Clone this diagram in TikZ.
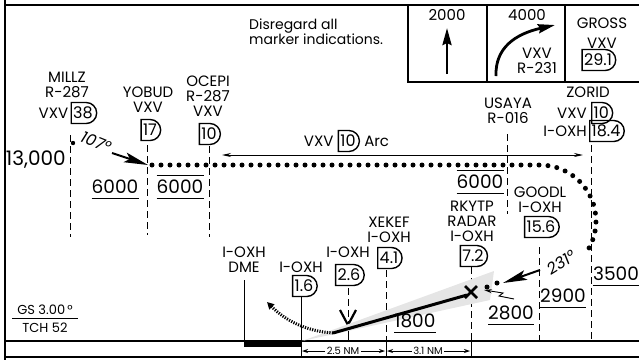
\documentclass[tikz,border=0pt]{standalone}
\usepackage{fontspec}
\setmainfont{Poppins}
\usepackage{tikz}
\usetikzlibrary{arrows.meta,positioning,shapes.misc,calc}

\begin{document}
\begin{tikzpicture}[x=1pt, y=-1pt,
    lbl/.style = {font=\fontsize{15}{15}\selectfont, inner sep=0pt, align=center},
    remark/.style = {font=\fontsize{14}{15}\selectfont, inner sep=0pt, align=left},
    alt/.style = {font=\fontsize{18.5}{18.5}\selectfont, inner xsep=0pt, inner ysep=4.5pt},
    nm/.style = {font=\fontsize{10}{10}\selectfont, inner sep=1.5pt},
    dme/.style = {draw, line width=1.4pt, rounded rectangle, rounded rectangle left arc=none,
                  font=\fontsize{16}{16}\selectfont, inner xsep=2pt, inner ysep=0pt, minimum height=21pt},
    fixline/.style = {line width=1pt, dash pattern=on 7pt off 4pt},
    solidline/.style = {line width=1pt},
    track/.style = {line width=5pt, line cap=round, dash pattern=on 0pt off 9pt},
    hdg/.style = {line width=2pt, -{Stealth[length=24pt, width=10pt, inset=5pt]}},
    nmarrow/.style = {line width=0.8pt, -{Stealth[length=6pt, width=4pt]}}]
    \useasboundingbox (0,0) rectangle (639,360);
    % frame and boxes
    \draw[line width=2pt] (5,0) -- (5,360);
    \draw[line width=2pt] (5,5) -- (639,5);
    \draw[line width=1.5pt] (408,5) -- (408,82) -- (639,82);
    \draw[line width=1.5pt] (487,5) -- (487,82);
    \draw[line width=1.5pt] (565,5) -- (565,82);
    \draw[line width=1.2pt] (5,341) -- (639,341);
    \draw[line width=1.2pt] (5,357) -- (639,357);
    \node[remark, anchor=north west] (note) at (249,19) {Disregard all\\marker indications.};
    % missed approach boxes
    \node[lbl] (climb) at (447,15) {2000};
    \coordinate (climbtail) at (447,74);
    \coordinate (climbhead) at (447,28);
    \draw[line width=2.6pt, -{Stealth[length=17pt, width=9pt, inset=2pt]}] (climbtail) -- (climbhead);
    \node[lbl] (turn) at (527,15) {4000};
    \coordinate (turntail) at (496,76);
    \coordinate (turnhead) at (555,25);
    \draw[line width=2.8pt, -{Stealth[length=17pt, width=9pt, inset=2pt]}] (turntail) .. controls (495,48) and (515,34) .. (turnhead);
    \node[lbl] (turnvxv) at (537,61) {VXV\\R-231};
    \node[lbl] (gross) at (602,23) {GROSS};
    \node[lbl] (grossv) at (602,43) {VXV};
    \node[dme] (grossd) at (598,60) {29.1};
    % fixes
    \node[lbl] (millz) at (67,85) {MILLZ\\R-287};
    \node[dme] (millzd) at (83,113) {38};
    \node[lbl, left=2pt of millzd] (millzv) {VXV};
    \draw[fixline] (70,135) -- (70,237);
    \node[lbl] (yobud) at (148,99.5) {YOBUD\\VXV};
    \node[dme] (yobudd) at (150,130) {17};
    \draw[fixline] (147,145) -- (147,235);
    \node[lbl] (ocepi) at (208,96.5) {OCEPI\\R-287\\VXV};
    \node[dme] (ocepid) at (209,134) {10};
    \draw[fixline] (209,146) -- (209,237);
    \node[lbl] (usaya) at (508,110.5) {USAYA\\R-016};
    \draw[fixline] (507,134) -- (507,214);
    \node[lbl] (zorid) at (588,92) {ZORID};
    \node[dme, anchor=west] (zoridd) at (591,113) {10};
    \node[lbl, left=4pt of zoridd] (zoridv) {VXV};
    \node[dme, anchor=west] (zoridi) at (589,131) {18.4};
    \node[lbl, left=2pt of zoridi] (zoridx) {I-OXH};
    \draw[fixline] (591,145) -- (591,341);
    \node[lbl] (goodl) at (540,200) {GOODL\\I-OXH};
    \node[dme] (goodld) at (541,227) {15.6};
    \draw[fixline] (539,247) -- (539,341);
    \node[lbl] (rkytp) at (472,221) {RKYTP\\RADAR\\I-OXH};
    \node[dme] (rkytpd) at (473,256) {7.2};
    \draw[fixline] (471,267) -- (471,341);
    \draw[solidline] (471,341) -- (471,357);
    \node[lbl] (xekef) at (389,229.5) {XEKEF\\I-OXH};
    \node[dme] (xekefd) at (389,258) {4.1};
    \draw[fixline] (386,270) -- (386,341);
    \draw[solidline] (386,341) -- (386,357);
    \node[lbl] (oxhb) at (348,252) {I-OXH};
    \node[dme] (oxhbd) at (349,275) {2.6};
    \draw[fixline] (348,288) -- (348,322);
    \draw[solidline] (348,322) -- (348,341);
    \draw[line width=2.2pt] (340,310) -- (348,325) -- (356,310);
    \node[lbl] (oxha) at (301,267) {I-OXH};
    \node[dme] (oxhad) at (304,286) {1.6};
    \draw[solidline] (301,297) -- (301,357);
    \node[lbl] (dme) at (244,260) {I-OXH\\DME};
    \draw[solidline] (244,280) -- (244,341);
    \fill (244,341) rectangle (301,347);
    % glide slope
    \fill[gray!20] (302,341) -- (494,271) -- (490,300) -- cycle;
    \draw[line width=3pt] (333,333) -- (467,295);
    \draw[line width=3pt, dash pattern=on 1.2pt off 1.3pt, -{Triangle[length=7pt, width=7pt]}] (333,333) .. controls (305,331) and (285,320) .. (267,302);
    % track
    \draw[track] (152,165) -- (540,165) arc[start angle=-90, end angle=36, radius=56];
    \fill (497,283) circle (2.5);
    \fill (487,287) circle (2.5);
    \fill (73,143) circle (2.2);
    \draw[line width=2.8pt] (465,286) -- (477,298) (465,298) -- (477,286);
    \node[font=\itshape\fontsize{16}{16}\selectfont, rotate=-22, inner sep=0pt] (crsin) at (96,142) {107°};
    \draw[hdg] (112,153) -- (148,165);
    \node[font=\itshape\fontsize{16}{16}\selectfont, rotate=32, inner sep=0pt] (crsout) at (561,262) {231°};
    \draw[hdg] (540,270) -- (503,283);
    \draw[line width=0.9pt, -{Stealth[length=8pt, width=4pt]}] (514,299) -- (499,296) -- (503,293) -- (484,290);
    % arc
    \node[dme] (arcd) at (348,141) {10};
    \node[lbl, left=4pt of arcd] (arcv) {VXV};
    \node[lbl, right=4pt of arcd] (arca) {Arc};
    \draw[line width=0.9pt, {Stealth[length=9pt, width=4pt]}-{Stealth[length=9pt, width=4pt]}] (222,155) -- (583,155);
    % altitudes
    \node[font=\fontsize{20}{20}\selectfont, inner sep=0pt, anchor=base east] (alt13) at (66,165) {13,000};
    \node[alt] (alta) at (115,187) {6000};
    \draw[line width=1.2pt] (alta.south west) -- (alta.south east);
    \node[alt] (altb) at (180,187) {6000};
    \draw[line width=1.2pt] (altb.south west) -- (altb.south east) (altb.north west) -- (altb.north east);
    \node[alt] (altc) at (480,182) {6000};
    \draw[line width=1.2pt] (altc.south west) -- (altc.south east) (altc.north west) -- (altc.north east);
    \node[alt] (altd) at (415,321) {1800};
    \draw[line width=1.2pt] (altd.south west) -- (altd.south east);
    \node[alt] (alte) at (511,313) {2800};
    \draw[line width=1.2pt] (alte.south west) -- (alte.south east);
    \node[alt] (altf) at (563,296) {2900};
    \draw[line width=1.2pt] (altf.south west) -- (altf.south east);
    \node[alt] (altg) at (616,274) {3500};
    \draw[line width=1.2pt] (altg.south west) -- (altg.south east);
    % glide slope note
    \node[font=\fontsize{13}{13}\selectfont, inner sep=0pt] (gs) at (45,310) {GS 3.00\,°};
    \draw[line width=1pt] (12,318) -- (78,318);
    \node[font=\fontsize{13}{13}\selectfont, inner sep=0pt] (tch) at (45,328) {TCH 52};
    % distances
    \node[nm] (nma) at (343,351) {2.5 NM};
    \coordinate (nmal) at (302,351);
    \coordinate (nmar) at (385,351);
    \draw[nmarrow] (nma) -- (nmal);
    \draw[nmarrow] (nma) -- (nmar);
    \node[nm] (nmb) at (428,351) {3.1 NM};
    \coordinate (nmbl) at (387,351);
    \coordinate (nmbr) at (470,351);
    \draw[nmarrow] (nmb) -- (nmbl);
    \draw[nmarrow] (nmb) -- (nmbr);
\end{tikzpicture}
\end{document}
